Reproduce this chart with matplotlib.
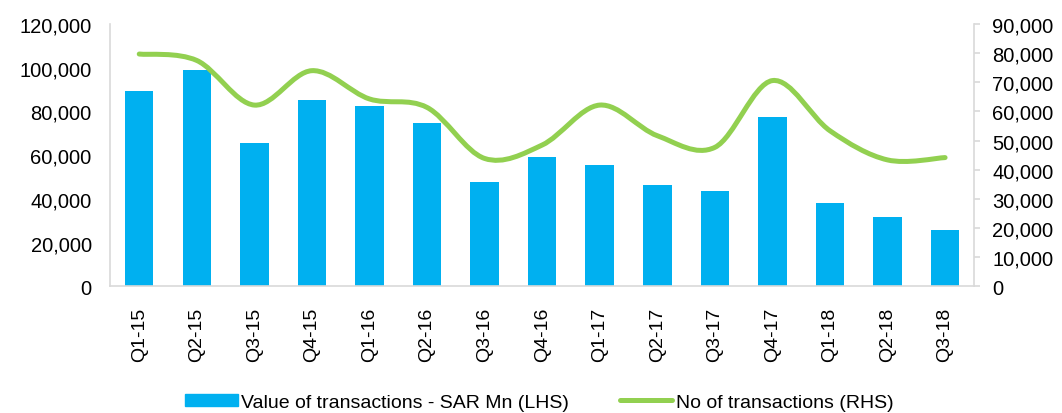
import matplotlib
matplotlib.use('Agg')
import matplotlib.pyplot as plt
import matplotlib.ticker as ticker
from matplotlib.path import Path
from matplotlib.patches import PathPatch
from matplotlib.lines import Line2D
import numpy as np

quarters = ['Q1-15', 'Q2-15', 'Q3-15', 'Q4-15', 'Q1-16', 'Q2-16', 'Q3-16', 'Q4-16',
            'Q1-17', 'Q2-17', 'Q3-17', 'Q4-17', 'Q1-18', 'Q2-18', 'Q3-18']
value_sar_mn = [89300, 99200, 65700, 85400, 82500, 74700, 47700, 59100,
                55500, 46500, 43600, 77600, 38300, 31700, 25600]
no_transactions = [79700, 77500, 62200, 74000, 64300, 61400, 43900, 48500,
                   62200, 51700, 47700, 70600, 53400, 43400, 44200]

bar_color = '#00B0F0'
line_color = '#92D050'
grey = '#D9D9D9'

plt.rcParams['font.family'] = ['Liberation Sans', 'DejaVu Sans']


def smooth_path(xs, ys):
    # excel-like smoothed line: cubic bezier through each point
    xs = np.asarray(xs, float)
    ys = np.asarray(ys, float)
    n = len(xs)
    verts = [(xs[0], ys[0])]
    codes = [Path.MOVETO]
    for i in range(n - 1):
        x0, y0 = (xs[i - 1], ys[i - 1]) if i > 0 else (xs[i], ys[i])
        x3, y3 = (xs[i + 2], ys[i + 2]) if i + 2 < n else (xs[i + 1], ys[i + 1])
        c1 = (xs[i] + (xs[i + 1] - x0) / 6, ys[i] + (ys[i + 1] - y0) / 6)
        c2 = (xs[i + 1] - (x3 - xs[i]) / 6, ys[i + 1] - (y3 - ys[i]) / 6)
        verts += [c1, c2, (xs[i + 1], ys[i + 1])]
        codes += [Path.CURVE4] * 3
    return Path(verts, codes)


fig = plt.figure(figsize=(10.62, 4.14), dpi=100)
ax = fig.add_axes([0.104, 0.3056, 0.813, 0.634])
ax2 = ax.twinx()

x = np.arange(len(quarters))
ax.bar(x, value_sar_mn, width=0.495, color=bar_color, zorder=2)
ax.set_ylim(0, 120000)
ax.set_xlim(-0.5, len(quarters) - 0.5)
ax.set_yticks(np.arange(0, 120001, 20000))
ax.yaxis.set_major_formatter(ticker.StrMethodFormatter('{x:,.0f}'))
ax.set_xticks(x)
ax.set_xticklabels(quarters, rotation=90)
ax.tick_params(axis='y', length=0, labelsize=14.5, pad=13.5)
ax.tick_params(axis='x', length=0, labelsize=14, pad=14.5)

ax2.set_ylim(0, 90000)
ax2.set_yticks(np.arange(0, 90001, 10000))
ax2.yaxis.set_major_formatter(ticker.StrMethodFormatter('{x:,.0f}'))
ax2.tick_params(axis='y', length=4.2, width=1.2, color=grey, labelsize=14.5, pad=9)
ax2.add_patch(PathPatch(smooth_path(x, no_transactions), facecolor='none',
                        edgecolor=line_color, lw=3.6, capstyle='round', zorder=3))

for a in (ax, ax2):
    a.spines['top'].set_visible(False)
    for s in ('left', 'right', 'bottom'):
        a.spines[s].set_color(grey)
        a.spines[s].set_linewidth(1.2)
ax.spines['right'].set_visible(False)
ax2.spines['left'].set_visible(False)
ax2.spines['bottom'].set_visible(False)

handles = [plt.Rectangle((0, 0), 1, 1, color=bar_color),
           Line2D([], [], color=line_color, lw=3.6, solid_capstyle='round')]
labels = ['Value of transactions - SAR Mn (LHS)', 'No of transactions (RHS)']
fig.legend(handles, labels, loc='center', bbox_to_anchor=(0.508, 0.026), ncol=2,
           frameon=False, handlelength=2.7, handleheight=0.55, handletextpad=0.2,
           columnspacing=2.6, borderpad=0, prop={'size': 14})

fig.savefig('out.png', dpi=100)
